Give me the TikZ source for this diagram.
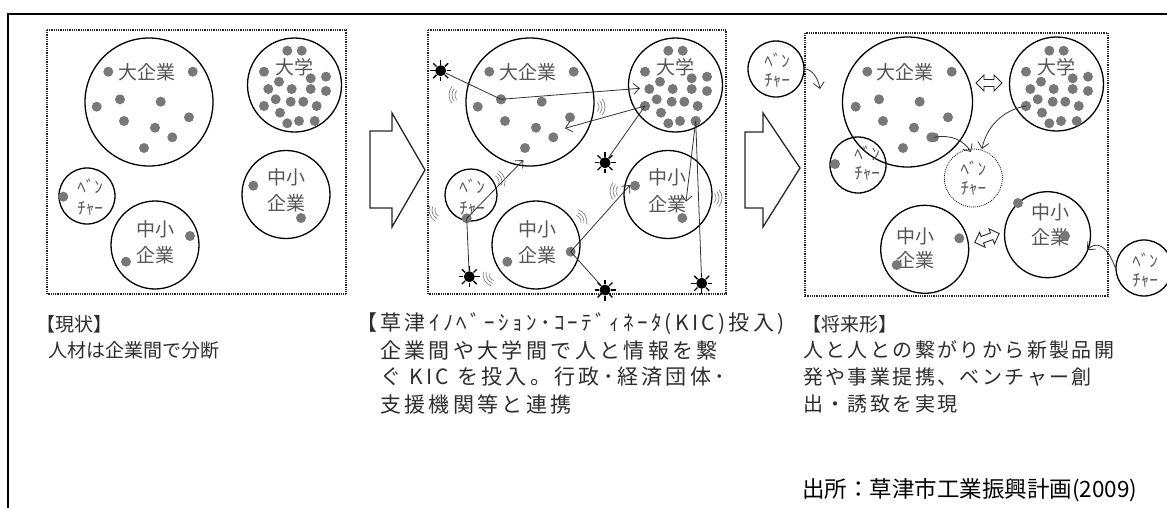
\documentclass[tikz,border=0pt]{standalone}
\usepackage{fontspec}
\newfontfamily\jp{Noto Sans CJK JP}
\newfontfamily\jpwa[LetterSpace=16]{Noto Sans CJK JP}
\newfontfamily\jpwb[LetterSpace=12]{Noto Sans CJK JP}
\usetikzlibrary{arrows.meta}
\definecolor{dotgray}{RGB}{120,120,120}
\definecolor{lblgray}{RGB}{85,85,85}
\definecolor{capgray}{RGB}{45,45,45}
\tikzset{
 frame/.style={line width=2pt},
 panel/.style={draw=black!85, line width=1.8pt, dash pattern=on 1pt off 0.8pt},
 org/.style={circle, draw=black, line width=1.3pt, minimum size=#1, inner sep=0pt},
 ventf/.style={circle, draw=black, line width=0.7pt, dash pattern=on 1pt off 1pt, minimum size=#1, inner sep=0pt},
 dotn/.style={circle, fill=dotgray, minimum size=10pt, inner sep=0pt},
 lbl/.style={font=\jp\fontsize{19}{19}\selectfont, text=lblgray, inner sep=0pt},
 vlbl/.style={font=\jp\fontsize{17}{17}\selectfont, text=lblgray, inner sep=0pt},
 capa/.style={font=\jp\fontsize{19}{19}\selectfont, text=capgray, anchor=west, inner sep=0pt},
 capb/.style={font=\jpwa\fontsize{21}{21}\selectfont, text=capgray, anchor=west, inner sep=0pt},
 capc/.style={font=\jpwb\fontsize{20}{20}\selectfont, text=capgray, anchor=west, inner sep=0pt},
 src/.style={font=\jp\fontsize{22.5}{22.5}\selectfont, text=black, anchor=west, inner sep=0pt},
 sunn/.style={circle, fill=black, minimum size=11pt, inner sep=0pt},
 conn/.style={draw=black!80, line width=0.8pt},
 arr/.style={conn, -{Straight Barb[length=6pt,width=11pt]}},
 carr/.style={draw=black!80, line width=0.8pt, -{Straight Barb[length=6pt,width=11pt]}},
 vib/.style={draw=black!50, line width=0.7pt},
 blockarrow/.style={draw=black!85, line width=1.3pt, fill=white},
 hollow/.style={draw=black!85, line width=0.9pt, fill=white},
}
\newcommand\bigdots{%
  \foreach \p in {(108.3,71.7),(192.7,71.7),(96.7,106.7),(120,99.3),(160.7,101.7),(189,117.3),(124,121),(155,127.7),(172.3,137.3),(144,148)}
    \fill[dotgray] \p circle (5);}
\newcommand\unidots{%
  \foreach \p in {(287.3,50.7),(301.7,50.7),(264,71.7),(279,81.7),(310.7,78.3),(326,76.7),(268.3,89),(291.7,89),(310.7,89),(326,91),(275.7,99.3),(290.7,101.7),(303.3,101.7),(264,106),(316.7,106),(280,112.7),(287.3,123.3),(299,121),(314.7,121)}
    \fill[dotgray] \p circle (5);}
\newcommand\vibr[3]{%
  \foreach \r in {7,10,13}
    \draw[vib] (#1,#2) ++(#3-40:\r) arc[start angle=#3-40, end angle=#3+40, radius=\r];}
\begin{document}
\begin{tikzpicture}[x=1pt,y=-1pt]
\useasboundingbox (0,0) rectangle (1167,507);
% outer frame
\draw[frame] (8,510) -- (8,14) -- (1170,14);

% ================= panel 1 =================
\draw[panel] (47,30) rectangle (346,294);
\node[org=128] (L1) at (149,102) {};
\node[org=94] (U1) at (294.5,85) {};
\node[org=56] (V1) at (87,196) {};
\node[org=88] (S1a) at (155,245) {};
\node[org=88] (S1b) at (286,194.5) {};
\bigdots
\unidots
\node[lbl] (L1t) at (147,72) {大企業};
\node[lbl] (U1t) at (294,67) {大学};
\fill[dotgray] (63.3,196.7) circle (5);
\node[vlbl] (V1t1) at (90,186) {ﾍﾞﾝ};
\node[vlbl] (V1t2) at (90,208) {ﾁｬｰ};
\node[lbl] (S1at1) at (155,229) {中小};
\node[lbl] (S1at2) at (155,255) {企業};
\fill[dotgray] (190,236) circle (5);
\fill[dotgray] (126,261.7) circle (5);
\node[lbl] (S1bt1) at (286,177) {中小};
\node[lbl] (S1bt2) at (286,203) {企業};
\fill[dotgray] (253.3,185.7) circle (5);
\fill[dotgray] (301,218) circle (5);

% block arrow 1
\draw[blockarrow] (370,131) -- (392,131) -- (392,113) -- (425,170) -- (392,227) -- (392,208) -- (370,208) -- cycle;

% ================= panel 2 =================
\draw[panel] (428,30) rectangle (726,294);
\node[org=128] (L2) at (530,102) {};
\node[org=94] (U2) at (675.5,85) {};
\node[org=52] (V2) at (471,195) {};
\node[org=88] (S2a) at (536,245) {};
\node[org=88] (S2b) at (668,194.5) {};
\begin{scope}[xshift=381pt]
\bigdots
\unidots
\end{scope}
\node[lbl] (L2t) at (528,72) {大企業};
\node[lbl] (U2t) at (675,67) {大学};
\node[vlbl] (V2t1) at (472,186) {ﾍﾞﾝ};
\node[vlbl] (V2t2) at (472,208) {ﾁｬｰ};
\node[lbl] (S2at1) at (537,229) {中小};
\node[lbl] (S2at2) at (537,255) {企業};
\node[lbl] (S2bt1) at (667,177) {中小};
\node[lbl] (S2bt2) at (667,204) {企業};
% named dots used by connectors
\node[dotn] (dA) at (501,99.3) {};
\node[dotn] (dU2) at (645,106) {};
\node[dotn] (dU3) at (695.7,121) {};
\node[dotn] (dV) at (466.7,218.3) {};
\node[dotn] (dS) at (570.7,251.7) {};
\node[dotn] (dS2) at (635,185.7) {};
\node[dotn] (dS3) at (682.3,218) {};
\node[dotn] (dS4) at (507.3,261.7) {};
% suns
\node[sunn] (s1) at (440.7,70.7) {};
\node[sunn] (s2) at (605,162.7) {};
\node[sunn] (s3) at (469.3,276.7) {};
\node[sunn] (s4) at (605,290) {};
\node[sunn] (s5) at (701.7,283.3) {};
% arrow targets
\coordinate (tU) at (640,88.3);
\coordinate (tL) at (565,128.3);
\coordinate (tS) at (686,201.7);
\coordinate (tL2) at (523.3,160);
\coordinate (tS2) at (630,185);
% connectors
\draw[conn] (dA.center) -- (s1);
\draw[arr] (dA.center) -- (tU);
\draw[arr] (dU2.center) -- (tL);
\draw[conn] (dU2.center) -- (s2);
\draw[arr] (dU3.center) -- (tS);
\draw[conn] (dU3.center) -- (s5);
\draw[arr] (dV.center) -- (tL2);
\draw[conn] (dV.center) -- (s3);
\draw[arr] (dS.center) -- (tS2);
\draw[conn] (dS.center) -- (s4);
% sun rays
\foreach \s in {s1,s2,s3,s4,s5}
  \foreach \a in {0,45,...,315}
    \draw[line width=1.3pt] (\s.center) ++(\a:6) -- ++(\a:4.5);
% vibration marks
\vibr{462}{95}{180}
\vibr{592}{107}{0}
\vibr{492}{182}{-20}
\vibr{442}{210}{160}
\vibr{574}{222}{-30}
\vibr{496}{274}{150}
\vibr{623}{191}{180}
\vibr{709}{198}{0}

% block arrow 2
\draw[blockarrow] (745,132) -- (763,132) -- (763,113) -- (800,168) -- (763,227) -- (763,208) -- (745,208) -- cycle;

% ================= panel 3 =================
\draw[panel] (805,33) rectangle (1108,296);
\node[org=130] (L3) at (907.5,102) {};
\node[org=94] (U3) at (1056.5,84) {};
\node[org=56] (V3a) at (776,69) {};
\node[org=56] (V3b) at (858,165) {};
\node[ventf=58] (V3f) at (973.3,178) {};
\node[org=88] (S3a) at (924.7,249.3) {};
\node[org=86] (S3b) at (1047.5,234.7) {};
\node[org=56] (V3c) at (1144,268) {};
\begin{scope}[xshift=759pt]
\bigdots
\end{scope}
\begin{scope}[xshift=762pt]
\unidots
\end{scope}
\node[lbl] (L3t) at (905,72) {大企業};
\node[lbl] (U3t) at (1056,67) {大学};
\node[vlbl] (V3at1) at (777,60) {ﾍﾞﾝ};
\node[vlbl] (V3at2) at (777,80) {ﾁｬｰ};
\node[vlbl] (V3bt1) at (867,153) {ﾍﾞﾝ};
\node[vlbl] (V3bt2) at (867,173) {ﾁｬｰ};
\node[dotn] (dV3) at (835,164) {};
\node[vlbl] (V3ft1) at (973.3,168) {ﾍﾞﾝ};
\node[vlbl] (V3ft2) at (973.3,188) {ﾁｬｰ};
\node[lbl] (S3at1) at (915,236) {中小};
\node[lbl] (S3at2) at (915,260) {企業};
\fill[dotgray] (959.3,238.3) circle (5);
\fill[dotgray] (896.7,265) circle (5);
\node[lbl] (S3bt1) at (1050,212) {中小};
\node[lbl] (S3bt2) at (1050,237) {企業};
\fill[dotgray] (1018,203) circle (5);
\fill[dotgray] (1065,236) circle (5);
\node[vlbl] (V3ct1) at (1145,260) {ﾍﾞﾝ};
\node[vlbl] (V3ct2) at (1145,280) {ﾁｬｰ};
% dots used by connectors
\node[dotn] (dL3) at (934,137.3) {};
\node[dotn] (dU3b) at (1026,106) {};
% curved arrows
\coordinate (e1) at (820,89);
\coordinate (e2) at (971,152);
\coordinate (e3) at (982,149);
\coordinate (e4) at (1087,250);
\draw[carr] (V3a.east) .. controls (812,69) and (818,78) .. (e1);
\draw[carr] (dL3.center) .. controls (952,134) and (964,141) .. (e2);
\draw[carr] (dU3b.center) .. controls (1002,110) and (986,128) .. (e3);
\draw[carr] (V3c.west) .. controls (1106,242) and (1095,242) .. (e4);
% hollow double arrows
\begin{scope}[shift={(989,83)}]
\draw[hollow] (-13,0) -- (-5,-8) -- (-5,-3.5) -- (5,-3.5) -- (5,-8) -- (13,0) -- (5,8) -- (5,3.5) -- (-5,3.5) -- (-5,8) -- cycle;
\end{scope}
\begin{scope}[shift={(987,238)}, rotate=20]
\draw[hollow] (-13,0) -- (-5,-8) -- (-5,-3.5) -- (5,-3.5) -- (5,-8) -- (13,0) -- (5,8) -- (5,3.5) -- (-5,3.5) -- (-5,8) -- cycle;
\end{scope}

% ================= captions =================
\node[capa] (c1a) at (36,324) {【現状】};
\node[capa] (c1b) at (48,350) {人材は企業間で分断};
\node[capb] (c2a) at (356,324) {【草津ｲﾉﾍﾞｰｼｮﾝ･ｺｰﾃﾞｨﾈｰﾀ(KIC)投入)};
\node[capb] (c2b) at (380,350) {企業間や大学間で人と情報を繋};
\node[capb] (c2c) at (380,377) {ぐ KIC を投入。行政･経済団体･};
\node[capb] (c2d) at (380,404) {支援機関等と連携};
\node[capa] (c3a) at (802,324) {【将来形】};
\node[capc] (c3b) at (803,350) {人と人との繋がりから新製品開};
\node[capc] (c3c) at (803,377) {発や事業提携、ベンチャー創};
\node[capc] (c3d) at (803,404) {出・誘致を実現};
\node[src] (srcn) at (802,490) {出所：草津市工業振興計画(2009)};
\end{tikzpicture}
\end{document}
